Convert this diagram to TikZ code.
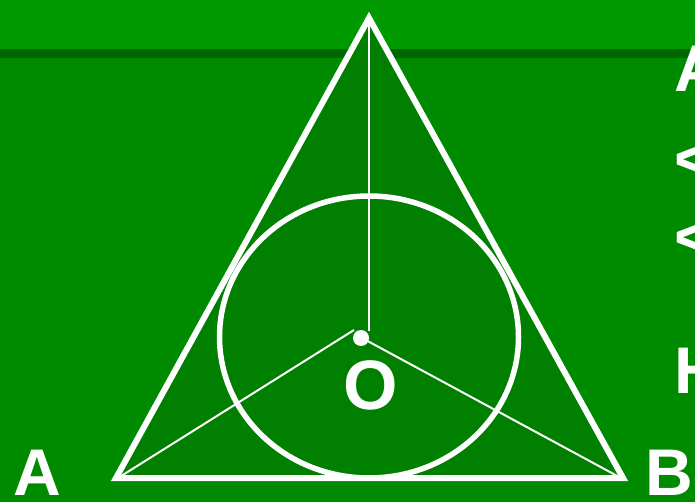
\documentclass[tikz,border=0pt]{standalone}
\usepackage{fontspec}
\setmainfont{Liberation Sans}
\begin{document}
\begin{tikzpicture}[x=1pt,y=-1pt,
  lbl/.style={text=white,font=\bfseries\fontsize{66}{66}\selectfont,inner sep=0pt},
  thick line/.style={draw=white,line width=6pt},
  thin line/.style={draw=white,line width=2pt}]
\definecolor{topgreen}{HTML}{009900}
\definecolor{bandgreen}{HTML}{006600}
\definecolor{bggreen}{HTML}{008A00}
\definecolor{triggreen}{HTML}{007F00}
\useasboundingbox (0,0) rectangle (695,502);
\clip (0,0) rectangle (695,502);
\fill[bggreen] (0,0) rectangle (695,502);
\fill[topgreen] (0,0) rectangle (695,49);
\fill[bandgreen] (0,49) rectangle (695,58);
% points
\coordinate (T) at (369,18);
\coordinate (L) at (116,478);
\coordinate (R) at (623,478);
\coordinate (C) at (369,337);
\coordinate (Cv) at (369,331);
\coordinate (Cl) at (354,330);
\coordinate (Cr) at (362,338);
\coordinate (Lin) at (118,478);
\coordinate (Rin) at (621,478);
% triangle
\fill[triggreen] (T) -- (L) -- (R) -- cycle;
\draw[thin line] (T) -- (Cv);
\draw[thin line] (Cl) -- (Lin);
\draw[thin line] (Cr) -- (Rin);
\draw[thick line,line width=5.5pt] (C) ellipse[x radius=149.5,y radius=141];
\draw[thick line,line join=miter] (T) -- (L) -- (R) -- cycle;
\fill[white] (361,338) circle[radius=8];
% labels
\node[lbl,font=\bfseries\fontsize{70}{70}\selectfont,anchor=base] (lO) at (371,409) {O};
\node[lbl,anchor=base west] (lA) at (13,495) {A};
\node[lbl,anchor=base west] (lB) at (645,495) {B};
\node[lbl,anchor=base west] (r1) at (674,92) {A};
\node[lbl,anchor=base west] (r2) at (674,182) {<};
\node[lbl,anchor=base west] (r3) at (674,260) {<};
\node[lbl,anchor=base west] (r4) at (674,393) {H};
\end{tikzpicture}
\end{document}
